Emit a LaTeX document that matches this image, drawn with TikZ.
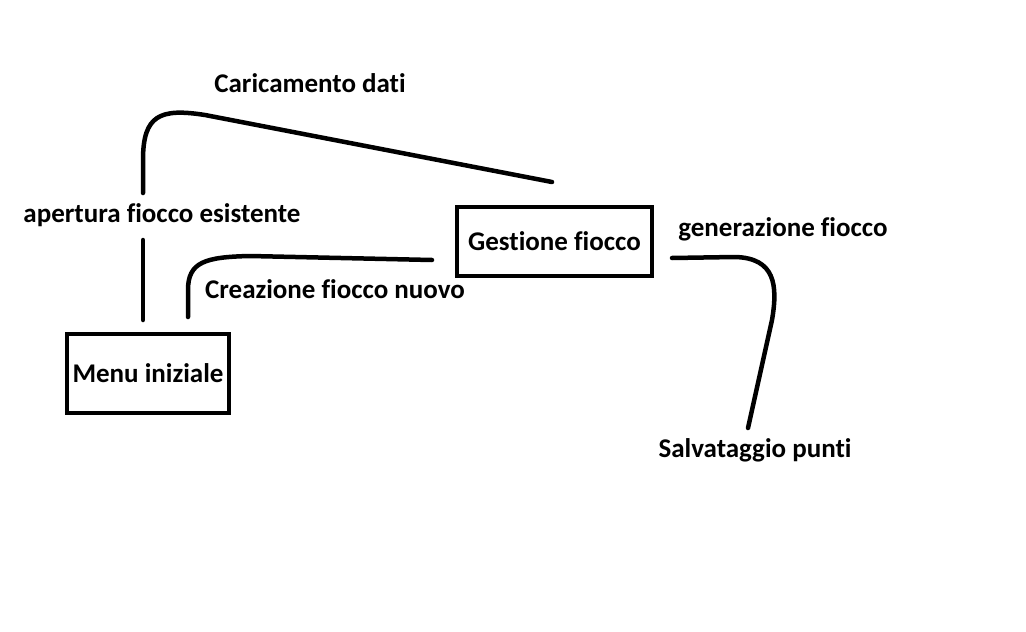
\documentclass[tikz,border=0pt]{standalone}
\usepackage{fontspec}
\setmainfont[Ligatures=NoCommon]{Carlito}
\begin{document}
\begin{tikzpicture}[x=1pt,y=-1pt,
    box/.style={draw, line width=4.5pt, inner sep=0pt, font=\bfseries\fontsize{27}{32}\selectfont},
    lbl/.style={inner sep=0pt, font=\bfseries\fontsize{27}{32}\selectfont},
    stroke/.style={line width=4.5pt, line cap=round}]
    \useasboundingbox (0,0) rectangle (1026,632);
    % boxes
    \node[box, minimum width=162pt, minimum height=79pt] (menu) at (148,373.5) {Menu iniziale};
    \node[box, minimum width=195pt, minimum height=69pt] (gestione) at (554.5,241.5) {Gestione fiocco};
    % labels
    \node[lbl] (caricamento) at (310,83) {Caricamento dati};
    \node[lbl] (apertura) at (162,215) {apertura fiocco esistente};
    \node[lbl] (creazione) at (335,289) {Creazione fiocco nuovo};
    \node[lbl] (generazione) at (783,229) {generazione fiocco};
    \node[lbl] (salvataggio) at (755,450) {Salvataggio punti};
    % free ends of the strokes
    \coordinate (menuA) at (143,320);
    \coordinate (aperturaLo) at (143,240);
    \coordinate (aperturaHi) at (143,193);
    \coordinate (gestioneTop) at (552,182);
    \coordinate (menuB) at (188,317);
    \coordinate (gestioneLeft) at (432,260);
    \coordinate (gestioneRight) at (672,258);
    \coordinate (salvataggioTop) at (748,428);
    % strokes
    \draw[stroke] (menuA) -- (aperturaLo);
    \draw[stroke] (aperturaHi) -- (143,160) .. controls (143,115) and (160,108) .. (205,115) -- (gestioneTop);
    \draw[stroke] (menuB) -- (188,290) .. controls (188,262) and (205,257) .. (250,256) -- (gestioneLeft);
    \draw[stroke] (gestioneRight) -- (735,257) .. controls (775,258) and (778,285) .. (772,320) -- (salvataggioTop);
\end{tikzpicture}
\end{document}
